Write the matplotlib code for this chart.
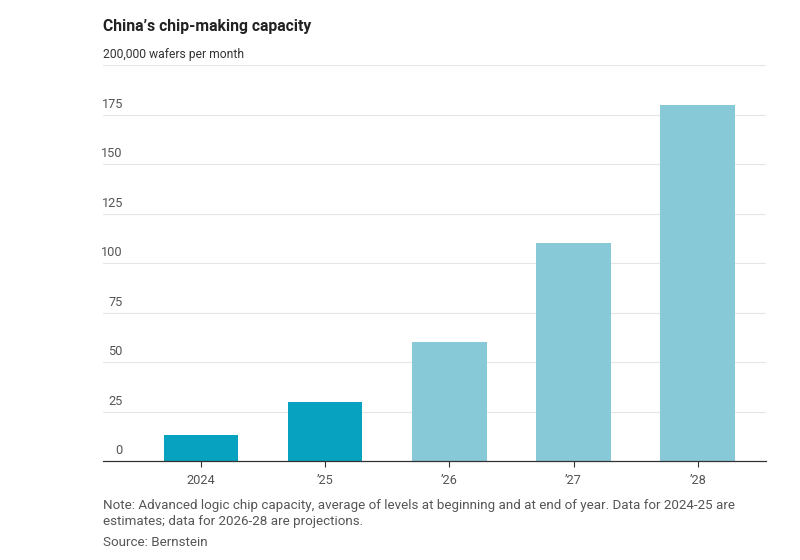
import matplotlib.pyplot as plt

years = ["2024", "\u201925", "\u201926", "\u201927", "\u201928"]
capacity = [13, 30, 60, 110, 180]
is_estimate = [True, True, False, False, False]
yticks = [0, 25, 50, 75, 100, 125, 150, 175]

dark = "#07a2bf"
light = "#88c9d7"

plt.rcParams['font.family'] = ['Roboto', 'DejaVu Sans']

fig = plt.figure(figsize=(8, 5.6), dpi=100)
ax = fig.add_axes([103/800, 1 - 461/560, 663/800, (461 - 65)/560])

x = list(range(len(years)))
colors = [dark if e else light for e in is_estimate]
ax.bar(x, capacity, width=0.6, color=colors, zorder=2)

ax.set_xlim(-0.79, 4.55)
ax.set_ylim(0, 200)

# gridlines incl. the 200 line
for v in yticks[1:] + [200]:
    ax.axhline(v, color="#e6e6e6", lw=0.8, zorder=1)

ax.set_yticks([])
ax.set_xticks(x)
ax.set_xticklabels(years, fontsize=9.2, color="#555555")
ax.tick_params(axis="x", length=4, width=0.8, color="#333333", pad=5)

for v in yticks:
    ax.text(0.03, v + 2, str(v), transform=ax.get_yaxis_transform(),
            ha="right", va="bottom", fontsize=9.2, color="#555555")
ax.text(0.0, 202, "200,000 wafers per month", transform=ax.get_yaxis_transform(),
        ha="left", va="bottom", fontsize=8.7, color="#333333")

for s in ["top", "right", "left"]:
    ax.spines[s].set_visible(False)
ax.spines["bottom"].set_color("#333333")
ax.spines["bottom"].set_linewidth(0.9)

fig.text(103/800, 1 - 26/560, "China\u2019s chip-making capacity", fontsize=11.3,
         fontweight="bold", color="#222222", va="center", ha="left")
fig.text(103/800, 1 - 505/560,
         "Note: Advanced logic chip capacity, average of levels at beginning and at end of year. Data for 2024-25 are",
         fontsize=9.6, color="#555555", va="center", ha="left")
fig.text(103/800, 1 - 522/560, "estimates; data for 2026-28 are projections.",
         fontsize=9.6, color="#555555", va="center", ha="left")
fig.text(103/800, 1 - 542/560, "Source: Bernstein",
         fontsize=9.6, color="#555555", va="center", ha="left")

fig.savefig("out.png", dpi=100, facecolor="white")
